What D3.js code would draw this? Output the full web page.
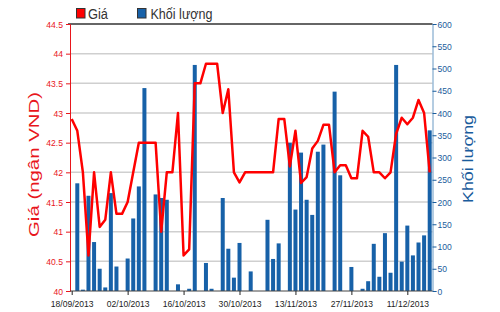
<!DOCTYPE html>
<html><head><meta charset="utf-8">
<script src="https://cdn.jsdelivr.net/npm/d3@7"></script>
<style>body{margin:0;background:#fff}svg{display:block}text{font-family:"Liberation Sans",Arial,sans-serif}</style>
</head><body><svg id="c" width="500" height="312"></svg>
<script>
const dates = ["18/09/2013","19/09/2013","20/09/2013","23/09/2013","24/09/2013","25/09/2013","26/09/2013","27/09/2013","30/09/2013",
"01/10/2013","02/10/2013","03/10/2013","04/10/2013","07/10/2013","08/10/2013","09/10/2013","10/10/2013","11/10/2013","14/10/2013","15/10/2013",
"16/10/2013","17/10/2013","18/10/2013","21/10/2013","22/10/2013","23/10/2013","24/10/2013","25/10/2013","28/10/2013","29/10/2013",
"30/10/2013","31/10/2013","01/11/2013","04/11/2013","05/11/2013","06/11/2013","07/11/2013","08/11/2013","11/11/2013","12/11/2013",
"13/11/2013","14/11/2013","15/11/2013","18/11/2013","19/11/2013","20/11/2013","21/11/2013","22/11/2013","25/11/2013","26/11/2013",
"27/11/2013","28/11/2013","29/11/2013","02/12/2013","03/12/2013","04/12/2013","05/12/2013","06/12/2013","09/12/2013","10/12/2013",
"11/12/2013","12/12/2013","13/12/2013","16/12/2013","17/12/2013"];
const price = [42.9,42.7,42.0,40.6,42.0,41.08,41.2,42.0,41.3,41.3,
41.5,42.0,42.5,42.5,42.5,42.5,41.0,42.0,42.0,43.0,
40.6,40.7,43.5,43.5,43.83,43.83,43.83,43.0,43.4,42.0,
41.83,42.0,42.0,42.0,42.0,42.0,42.0,42.9,42.9,42.1,
42.7,41.82,41.92,42.4,42.53,42.8,42.8,42.0,42.12,42.12,
41.9,41.9,42.7,42.6,42.0,42.0,41.9,42.0,42.65,42.92,
42.81,42.92,43.22,43.0,42.0];
const volume = [0,242,3,214,110,50,8,220,55,0,
73,163,235,456,0,217,209,205,0,15,
0,5,508,0,63,5,0,209,95,30,
108,0,44,0,0,160,72,107,0,333,
183,311,205,171,313,329,0,448,260,0,
54,0,5,22,106,32,130,41,508,66,
147,80,109,125,361];
const priceTicks = [40,40.5,41,41.5,42,42.5,43,43.5,44,44.5];
const volumeTicks = [0,50,100,150,200,250,300,350,400,450,500,550,600];
const xTickLabels = ["18/09/2013","02/10/2013","16/10/2013","30/10/2013","13/11/2013","27/11/2013","11/12/2013"];

const RED = "#e8161c", BLUE = "#1a5c9c";
const L = 70, R = 432.5, T = 24, B = 291;
const svg = d3.select("#c");
const x = d3.scalePoint().domain(dates).range([71.7, 429.7]);
const yP = d3.scaleLinear().domain([40, 44.5]).range([B, T]);
const yV = d3.scaleLinear().domain([0, 600]).range([B, T]);

// grid
svg.append("g").selectAll("line").data(priceTicks.slice(1, -1)).join("line")
  .attr("x1", L).attr("x2", R).attr("y1", d => yP(d)).attr("y2", d => yP(d))
  .attr("stroke", "#cfcfcf").attr("stroke-width", 1.5);
svg.append("line").attr("x1", L - 2).attr("x2", R).attr("y1", T).attr("y2", T)
  .attr("stroke", "#666").attr("stroke-width", 2);

// bars
svg.append("g").selectAll("rect").data(volume.map((v, i) => ({v, d: dates[i]}))).join("rect")
  .attr("x", d => x(d.d) - 2).attr("width", 4)
  .attr("y", d => yV(d.v)).attr("height", d => B - yV(d.v))
  .attr("fill", "#1761a8");

// price line
svg.append("path").datum(price.map((p, i) => ({p, d: dates[i]})))
  .attr("fill", "none").attr("stroke", "#ff0000").attr("stroke-width", 2.5)
  .attr("stroke-linejoin", "round")
  .attr("d", d3.line().x(d => x(d.d)).y(d => yP(d.p)));

// axes
const gl = svg.append("g").attr("transform", `translate(${L},0)`)
  .call(d3.axisLeft(yP).tickValues(priceTicks).tickSize(4).tickPadding(3).tickFormat(d => String(d)));
gl.select(".domain").attr("stroke", RED);
gl.selectAll(".tick line").attr("stroke", RED);
gl.selectAll("text").attr("fill", RED).attr("font-size", 9.5).attr("class", "cond")
  .attr("font-family", '"Liberation Sans",Arial,sans-serif');

const gr = svg.append("g").attr("transform", `translate(${R},0)`)
  .call(d3.axisRight(yV).tickValues(volumeTicks).tickSize(4).tickPadding(1));
gr.select(".domain").attr("stroke", "#6b9ac4");
gr.selectAll(".tick line").attr("stroke", BLUE);
gr.selectAll("text").attr("fill", BLUE).attr("font-size", 9.5).attr("class", "cond")
  .attr("font-family", '"Liberation Sans",Arial,sans-serif');

const gx = svg.append("g").attr("transform", `translate(0,${B})`)
  .call(d3.axisBottom(x).tickValues(xTickLabels).tickSize(4).tickPadding(5));
gx.select(".domain").attr("stroke", "#444").attr("d", `M${L},0H${R}`);
gx.selectAll(".tick line").attr("stroke", "#222");
gx.selectAll("text").attr("fill", "#222").attr("font-size", 9.5).attr("class", "cond")
  .attr("font-family", '"Liberation Sans",Arial,sans-serif');

// titles
svg.append("text").attr("transform", "translate(39,164.5) rotate(-90)")
  .attr("text-anchor", "middle").attr("fill", RED).attr("font-size", 14.5)
  .attr("textLength", 145).attr("lengthAdjust", "spacingAndGlyphs")
  .text("Giá (ngân VND)");
svg.append("text").attr("transform", "translate(473,159) rotate(-90)")
  .attr("text-anchor", "middle").attr("fill", BLUE).attr("font-size", 15)
  .attr("textLength", 88).attr("lengthAdjust", "spacingAndGlyphs")
  .text("Khối lượng");

// legend
svg.append("rect").attr("x", 76.5).attr("y", 8.5).attr("width", 8.5).attr("height", 9.5)
  .attr("fill", "#ff0000").attr("stroke", "#333");
svg.append("text").attr("x", 88).attr("y", 18.5).attr("font-size", 14).attr("fill", "#333")
  .attr("textLength", 20).attr("lengthAdjust", "spacingAndGlyphs").text("Giá");
svg.append("rect").attr("x", 137.5).attr("y", 8.5).attr("width", 8.5).attr("height", 9.5)
  .attr("fill", "#1761a8").attr("stroke", "#333");
svg.append("text").attr("x", 150.5).attr("y", 18.5).attr("font-size", 14).attr("fill", "#333")
  .attr("textLength", 62).attr("lengthAdjust", "spacingAndGlyphs").text("Khối lượng");

// condense tick labels
svg.selectAll("text.cond").each(function() {
  const w = this.getComputedTextLength();
  d3.select(this).attr("textLength", w * 0.9).attr("lengthAdjust", "spacingAndGlyphs");
});
</script></body></html>
